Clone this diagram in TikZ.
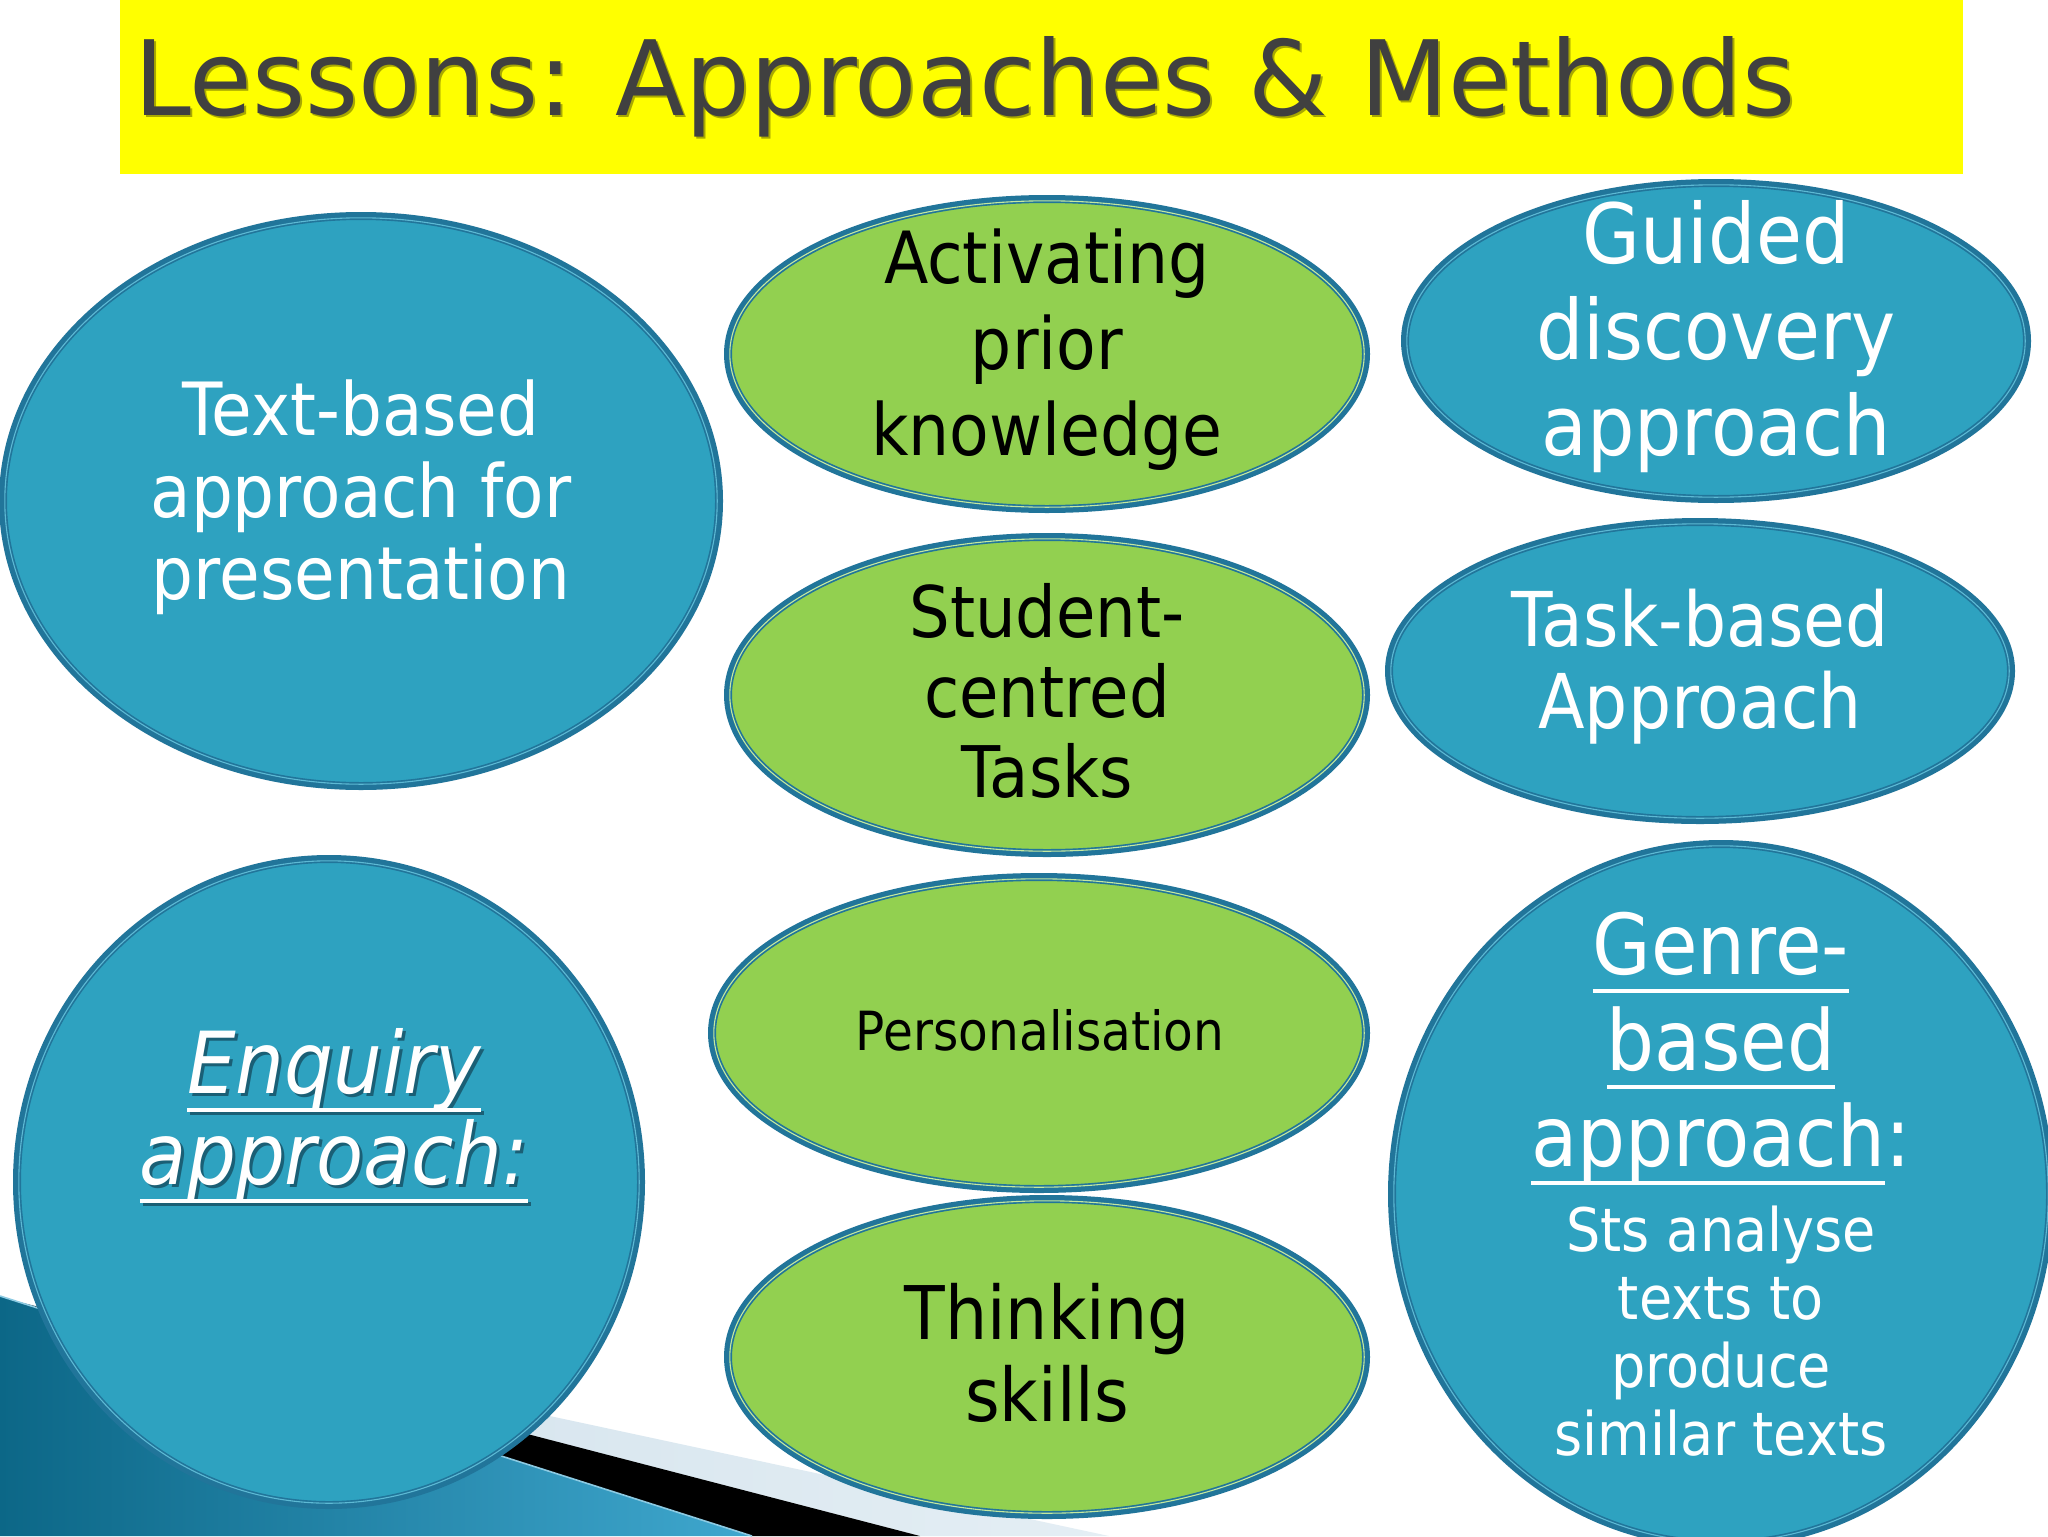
\documentclass[tikz,border=0pt]{standalone}
\usepackage{fontspec}
\setmainfont{DejaVu Sans}[FakeStretch=0.9]
\newfontfamily\titlefont{DejaVu Sans}[FakeStretch=0.98]
\usetikzlibrary{shapes.geometric}
\definecolor{titleyellow}{RGB}{255,255,0}
\definecolor{ttl}{HTML}{404040}
\definecolor{ttlshd}{HTML}{A9A900}
\definecolor{bfill}{HTML}{2EA2C0}
\definecolor{bord}{HTML}{21759A}
\definecolor{bline}{HTML}{5DB9D4}
\definecolor{gfill}{HTML}{92D050}
\definecolor{gline}{HTML}{C4E89E}
\definecolor{shadowc}{HTML}{1A5F75}
\definecolor{decdark}{HTML}{0C6787}
\definecolor{declight}{HTML}{3FA7CE}
\definecolor{bandA}{HTML}{CFE0EB}
\definecolor{bandB}{HTML}{E4EEF4}
\newsavebox\ulbox
\newcommand\myul[1]{\sbox\ulbox{#1}\makebox[0pt][l]{\rule[-0.22em]{\wd\ulbox}{0.05em}}\usebox\ulbox}
\newcommand\shd[1]{\makebox[0pt][l]{\hspace{1.5pt}\raisebox{-1.5pt}{\color{shadowc}#1}}#1}
\newcommand\shdT[1]{\makebox[0pt][l]{\hspace{1pt}\raisebox{-1.5pt}{\color{ttlshd}#1}}#1}
\tikzset{
  bub/.style={ellipse, inner sep=0pt, outer sep=0pt, draw=bord, line width=4pt},
  wtxt/.style={align=center, inner sep=0pt, text=white},
  ktxt/.style={align=center, inner sep=0pt, text=black},
}
% name, x, y, width (pt), height (pt), fill, inner line colour
\newcommand\bubble[7]{%
  \node[bub, fill=#6, minimum width=#4pt, minimum height=#5pt] (#1) at (#2,#3) {};
  \draw[#7, line width=0.55pt] (#1.center) ellipse [x radius=#4pt/2-0.9pt, y radius=#5pt/2-0.9pt];
}
\begin{document}
\begin{tikzpicture}[x=0.5pt, y=-0.5pt]
\useasboundingbox (0,0) rectangle (2048,1536);
\fill[white] (0,0) rectangle (2048,1536);
% title bar
\fill[fill=titleyellow] (120,0) rectangle (1963,174);
\node[anchor=base west, inner sep=0pt, text=ttl, font=\titlefont\fontsize{52}{60}\selectfont] (title) at (134,115) {\shdT{Lessons: Approaches \& Methods}};
% bottom-left decoration
\shade[left color=bandA, right color=bandB] (0,1298) -- (1109,1536) -- (920,1536) -- cycle;
\fill[black] (0,1297) -- (920,1536) -- (752,1536) -- cycle;
\shade[left color=decdark, right color=declight] (0,1296) -- (752,1536) -- (0,1536) -- cycle;
\draw[line width=0.8pt, color=declight!60!white] (0,1296) -- (752,1536);
% ellipses
\bubble{e1}{361}{501}{358}{285}{bfill}{bline}
\bubble{e2}{1047}{354}{319}{155}{gfill}{gline}
\bubble{e3}{1716}{341}{311}{158}{bfill}{bline}
\bubble{e4}{1047}{695}{319}{158}{gfill}{gline}
\bubble{e5}{1700}{671}{311}{149}{bfill}{bline}
\bubble{e6}{329}{1182}{312}{323}{bfill}{bline}
\bubble{e7}{1039}{1033}{327}{156}{gfill}{gline}
\bubble{e8}{1047}{1357}{319}{158}{gfill}{gline}
\bubble{e9}{1721}{1194}{329}{350}{bfill}{bline}
% texts
\node[wtxt, font=\fontsize{36.7}{41}\selectfont] (t1) at (e1.center) [yshift=2pt] {Text-based\\approach for\\presentation};
\node[ktxt, font=\fontsize{36}{43}\selectfont] (t2) at (e2.center) [yshift=2pt] {Activating\\prior\\knowledge};
\node[wtxt, font=\fontsize{41.5}{48}\selectfont] (t3) at (e3.center) [yshift=2pt] {Guided\\discovery\\approach};
\node[ktxt, font=\fontsize{35.6}{40}\selectfont] (t4) at (e4.center) [yshift=2pt] {Student-\\centred\\Tasks};
\node[wtxt, font=\fontsize{37.8}{41}\selectfont] (t5) at (e5.center) [yshift=2pt] {Task-based\\Approach};
\node[wtxt, font=\itshape\fontsize{42.8}{45.5}\selectfont] (t6) at (334,1117) {\shd{\myul{Enquiry}}\\\shd{\myul{approach:}}};
\node[ktxt, font=\fontsize{27}{32}\selectfont] (t7) at (1040,1030) {Personalisation};
\node[ktxt, font=\fontsize{37}{41}\selectfont] (t8) at (e8.center) [yshift=2pt] {Thinking\\skills};
\node[wtxt, font=\fontsize{42}{48}\selectfont] (t9a) at (1721,1049) {\myul{Genre-}\\\myul{based}\\\myul{approach}:};
\node[wtxt, font=\fontsize{30}{34}\selectfont] (t9b) at (1721,1331) {Sts analyse\\texts to\\produce\\similar texts};
\end{tikzpicture}
\end{document}
